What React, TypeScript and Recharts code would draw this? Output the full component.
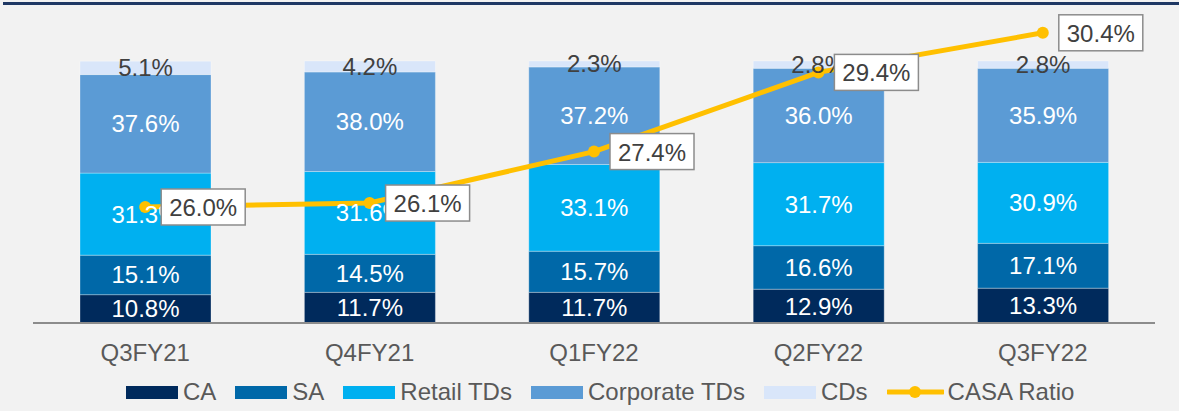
import React from "react";
import { ComposedChart, Bar, Line, XAxis, YAxis, LabelList } from "recharts";

const categories = ["Q3FY21", "Q4FY21", "Q1FY22", "Q2FY22", "Q3FY22"];
const ca = [10.8, 11.7, 11.7, 12.9, 13.3];
const sa = [15.1, 14.5, 15.7, 16.6, 17.1];
const retailTds = [31.3, 31.6, 33.1, 31.7, 30.9];
const corporateTds = [37.6, 38.0, 37.2, 36.0, 35.9];
const cds = [5.1, 4.2, 2.3, 2.8, 2.8];
const casaRatio = [26.0, 26.1, 27.4, 29.4, 30.4];

const FONT = "'Liberation Sans', Arial, Helvetica, sans-serif";

const COLORS = {
  ca: "#002a5c",
  sa: "#0068a8",
  retail: "#00b0f0",
  corporate: "#5b9bd5",
  cds: "#d9e6fa",
  casa: "#ffc000",
};

const data = categories.map((name, i) => ({
  name,
  ca: ca[i],
  sa: sa[i],
  retail: retailTds[i],
  corporate: corporateTds[i],
  cds: cds[i],
  casa: casaRatio[i],
}));

const pct = (v: any) => `${Number(v).toFixed(1)}%`;

// white box with grey border sitting to the right of each CASA point
function CasaLabel(props: any) {
  const { x, y, value } = props;
  if (x == null || y == null) return null;
  const bx = x + 16;
  const by = y - 18;
  return (
    <g>
      <rect x={bx} y={by} width={84} height={36} fill="#ffffff" stroke="#8c8c8c" strokeWidth={1.5} />
      <text x={bx + 42} y={by + 27} textAnchor="middle" fontSize={24} fill="#404040" fontFamily={FONT}>
        {pct(value)}
      </text>
    </g>
  );
}

function CategoryTick(props: any) {
  const { x, y, payload } = props;
  return (
    <text x={x} y={y + 30} textAnchor="middle" fontSize={24} fill="#595959" fontFamily={FONT}>
      {payload.value}
    </text>
  );
}

const legendItems = [
  { label: "CA", color: COLORS.ca, kind: "box" },
  { label: "SA", color: COLORS.sa, kind: "box" },
  { label: "Retail TDs", color: COLORS.retail, kind: "box" },
  { label: "Corporate TDs", color: COLORS.corporate, kind: "box" },
  { label: "CDs", color: COLORS.cds, kind: "box" },
  { label: "CASA Ratio", color: COLORS.casa, kind: "line" },
];

function LegendRow() {
  return (
    <div
      style={{
        position: "absolute",
        left: 126,
        top: 378,
        display: "flex",
        alignItems: "center",
        fontFamily: FONT,
        fontSize: 24,
        color: "#595959",
        whiteSpace: "nowrap",
      }}
    >
      {legendItems.map((it) => (
        <div key={it.label} style={{ display: "flex", alignItems: "center", marginRight: 19 }}>
          {it.kind === "box" ? (
            <span style={{ width: 52, height: 13, background: it.color, display: "inline-block", marginRight: 5 }} />
          ) : (
            <svg width={57} height={14} style={{ marginRight: 4 }}>
              <line x1={1} y1={7} x2={56} y2={7} stroke={it.color} strokeWidth={5} strokeLinecap="round" />
              <circle cx={28} cy={7} r={6} fill={it.color} />
            </svg>
          )}
          <span style={{ lineHeight: "28px" }}>{it.label}</span>
        </div>
      ))}
    </div>
  );
}

export default function App() {
  const barStroke = "rgba(255,255,255,0.3)";
  return (
    <div
      style={{
        position: "absolute",
        left: 0,
        top: 0,
        width: 1179,
        height: 411,
        background: "#f2f2f2",
        overflow: "hidden",
      }}
    >
      <div style={{ position: "absolute", left: 3, right: 0, top: 2, height: 3, background: "#1f3864" }} />
      <ComposedChart
        width={1179}
        height={411}
        data={data}
        margin={{ top: 13, right: 24, left: 33, bottom: 48 }}
        style={{ position: "absolute", left: 0, top: 0 }}
      >
        <XAxis
          dataKey="name"
          height={40}
          tickLine={false}
          axisLine={{ stroke: "#8c8c8c", strokeWidth: 2 }}
          tick={<CategoryTick />}
          interval={0}
        />
        <YAxis yAxisId="left" hide domain={[0, 118.3]} allowDataOverflow />
        <YAxis yAxisId="right" orientation="right" hide domain={[23.07, 30.9]} allowDataOverflow />
        <Bar yAxisId="left" dataKey="ca" stackId="a" fill={COLORS.ca} stroke={barStroke} barSize={131} isAnimationActive={false}>
          <LabelList dataKey="ca" position="center" fill="#ffffff" fontSize={24} fontFamily={FONT} formatter={pct} />
        </Bar>
        <Bar yAxisId="left" dataKey="sa" stackId="a" fill={COLORS.sa} stroke={barStroke} barSize={131} isAnimationActive={false}>
          <LabelList dataKey="sa" position="center" fill="#ffffff" fontSize={24} fontFamily={FONT} formatter={pct} />
        </Bar>
        <Bar yAxisId="left" dataKey="retail" stackId="a" fill={COLORS.retail} stroke={barStroke} barSize={131} isAnimationActive={false}>
          <LabelList dataKey="retail" position="center" fill="#ffffff" fontSize={24} fontFamily={FONT} formatter={pct} />
        </Bar>
        <Bar yAxisId="left" dataKey="corporate" stackId="a" fill={COLORS.corporate} stroke={barStroke} barSize={131} isAnimationActive={false}>
          <LabelList dataKey="corporate" position="center" fill="#ffffff" fontSize={24} fontFamily={FONT} formatter={pct} />
        </Bar>
        <Bar yAxisId="left" dataKey="cds" stackId="a" fill={COLORS.cds} stroke={barStroke} barSize={131} isAnimationActive={false}>
          <LabelList dataKey="cds" position="center" fill="#404040" fontSize={24} fontFamily={FONT} formatter={pct} />
        </Bar>
        <Line
          yAxisId="right"
          dataKey="casa"
          stroke={COLORS.casa}
          strokeWidth={5}
          dot={{ r: 6, fill: COLORS.casa, stroke: COLORS.casa, strokeWidth: 0 }}
          activeDot={false}
          isAnimationActive={false}
        >
          <LabelList dataKey="casa" content={<CasaLabel />} />
        </Line>
      </ComposedChart>
      <LegendRow />
    </div>
  );
}
